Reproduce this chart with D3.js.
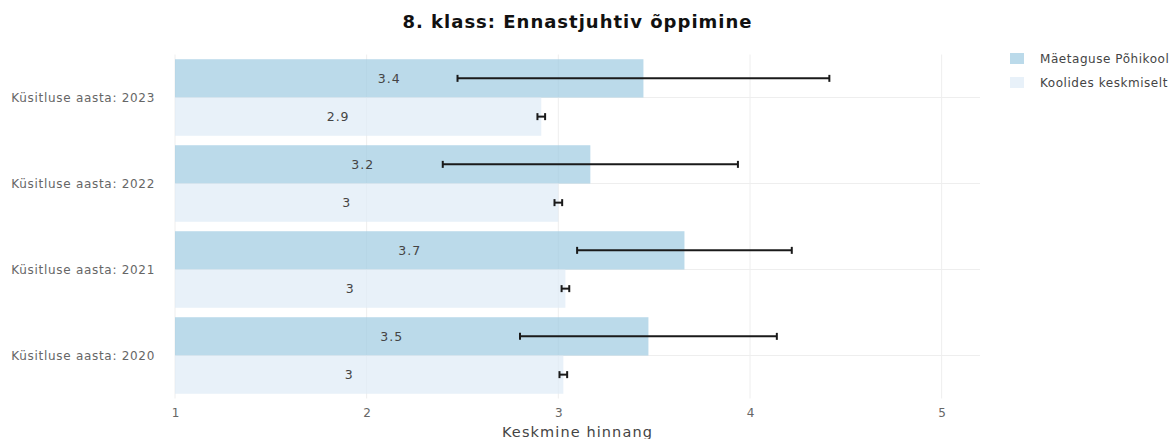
<!DOCTYPE html>
<html>
<head>
<meta charset="utf-8">
<script src="https://cdn.jsdelivr.net/npm/d3@7"></script>
<style>
  html, body { margin: 0; padding: 0; background: #fff; }
  svg { display: block; font-family: "DejaVu Sans", Verdana, sans-serif; }
</style>
</head>
<body>
<svg id="chart" width="1170" height="439"></svg>
<script>
const title = "8. klass: Ennastjuhtiv õppimine";
const categories = ["Küsitluse aasta: 2023", "Küsitluse aasta: 2022", "Küsitluse aasta: 2021", "Küsitluse aasta: 2020"];
const seriesNames = ["Mäetaguse Põhikool", "Koolides keskmiselt"];
const schoolValues = [3.444, 3.167, 3.658, 3.47];
const schoolErrors = [0.97, 0.77, 0.56, 0.67];
const schoolLabels = ["3.4", "3.2", "3.7", "3.5"];
const avgValues = [2.911, 3.0, 3.037, 3.026];
const avgErrors = [0.02, 0.02, 0.02, 0.02];
const avgLabels = ["2.9", "3", "3", "3"];
const xTicks = [1, 2, 3, 4, 5];
const xTitle = "Keskmine hinnang";
const colors = ["#9ecae1", "#deebf7"];

const svg = d3.select("#chart");
const mLeft = 175, mRight = 980, mTop = 54.5, mBottom = 398.5;

const x = d3.scaleLinear().domain([1, 5.2]).range([mLeft, mRight]);
const y = d3.scaleBand().domain(categories).range([mTop, mBottom]).paddingInner(0.11).paddingOuter(0.055);
const ySub = d3.scaleBand().domain(seriesNames).range([0, y.bandwidth()]);

// gridlines
const grid = svg.append("g");
grid.selectAll("line.v").data(xTicks).join("line")
  .attr("x1", d => x(d)).attr("x2", d => x(d))
  .attr("y1", mTop).attr("y2", mBottom)
  .attr("stroke", "#eeeeee").attr("stroke-width", 1);
grid.selectAll("line.h").data(categories).join("line")
  .attr("x1", mLeft).attr("x2", mRight)
  .attr("y1", d => y(d) + y.bandwidth() / 2).attr("y2", d => y(d) + y.bandwidth() / 2)
  .attr("stroke", "#eeeeee").attr("stroke-width", 1);

const series = [
  { name: seriesNames[0], values: schoolValues, errors: schoolErrors, labels: schoolLabels, color: colors[0] },
  { name: seriesNames[1], values: avgValues, errors: avgErrors, labels: avgLabels, color: colors[1] }
];

series.forEach(s => {
  const g = svg.append("g");
  const data = categories.map((c, i) => ({ c, v: s.values[i], e: s.errors[i], l: s.labels[i] }));
  g.selectAll("rect").data(data).join("rect")
    .attr("x", x(1))
    .attr("y", d => y(d.c) + ySub(s.name))
    .attr("width", d => x(d.v) - x(1))
    .attr("height", ySub.bandwidth())
    .attr("fill", s.color)
    .attr("fill-opacity", 0.7);
  g.selectAll("text").data(data).join("text")
    .attr("x", d => (x(1) + x(d.v)) / 2 - 20)
    .attr("y", d => y(d.c) + ySub(s.name) + ySub.bandwidth() / 2)
    .attr("dy", "0.35em")
    .attr("text-anchor", "middle")
    .attr("font-size", 12.5)
    .attr("letter-spacing", 1)
    .attr("fill", "#444")
    .text(d => d.l);
  const cy = d => y(d.c) + ySub(s.name) + ySub.bandwidth() / 2;
  const eb = g.selectAll("g.eb").data(data).join("g").attr("class", "eb");
  eb.append("line")
    .attr("x1", d => x(d.v - d.e)).attr("x2", d => x(d.v + d.e))
    .attr("y1", cy).attr("y2", cy)
    .attr("stroke", "#1a1a1a").attr("stroke-width", 2);
  eb.append("line")
    .attr("x1", d => x(d.v - d.e)).attr("x2", d => x(d.v - d.e))
    .attr("y1", d => cy(d) - 3.5).attr("y2", d => cy(d) + 3.5)
    .attr("stroke", "#1a1a1a").attr("stroke-width", 2);
  eb.append("line")
    .attr("x1", d => x(d.v + d.e)).attr("x2", d => x(d.v + d.e))
    .attr("y1", d => cy(d) - 3.5).attr("y2", d => cy(d) + 3.5)
    .attr("stroke", "#1a1a1a").attr("stroke-width", 2);
});

// y axis labels
svg.append("g").selectAll("text").data(categories).join("text")
  .attr("x", 155)
  .attr("y", d => y(d) + y.bandwidth() / 2)
  .attr("dy", "0.35em")
  .attr("text-anchor", "end")
  .attr("font-size", 12)
  .attr("letter-spacing", 0.7)
  .attr("fill", "#666")
  .text(d => d);

// x axis
const xAxis = svg.append("g").attr("transform", `translate(0,${mBottom})`)
  .call(d3.axisBottom(x).tickValues(xTicks).tickFormat(d3.format("d")).tickSize(0).tickPadding(10));
xAxis.select(".domain").remove();
xAxis.selectAll("text").attr("font-size", 12).attr("fill", "#666")
  .attr("font-family", "DejaVu Sans, Verdana, sans-serif");

svg.append("text")
  .attr("x", (mLeft + mRight) / 2).attr("y", 437)
  .attr("text-anchor", "middle")
  .attr("font-size", 14.5).attr("letter-spacing", 1.1).attr("fill", "#444")
  .text(xTitle);

// title
svg.append("text")
  .attr("x", (mLeft + mRight) / 2).attr("y", 28)
  .attr("text-anchor", "middle")
  .attr("font-size", 18).attr("font-weight", "bold").attr("letter-spacing", 1)
  .attr("fill", "#111")
  .text(title);

// legend
const leg = svg.append("g").selectAll("g").data(series).join("g")
  .attr("transform", (d, i) => `translate(1010,${53 + i * 24})`);
leg.append("rect").attr("width", 14).attr("height", 11)
  .attr("fill", d => d.color).attr("fill-opacity", 0.7);
leg.append("text").attr("x", 30).attr("y", 5.5).attr("dy", "0.35em")
  .attr("font-size", 12).attr("letter-spacing", 0.55).attr("fill", "#444")
  .text(d => d.name);
</script>
</body>
</html>
